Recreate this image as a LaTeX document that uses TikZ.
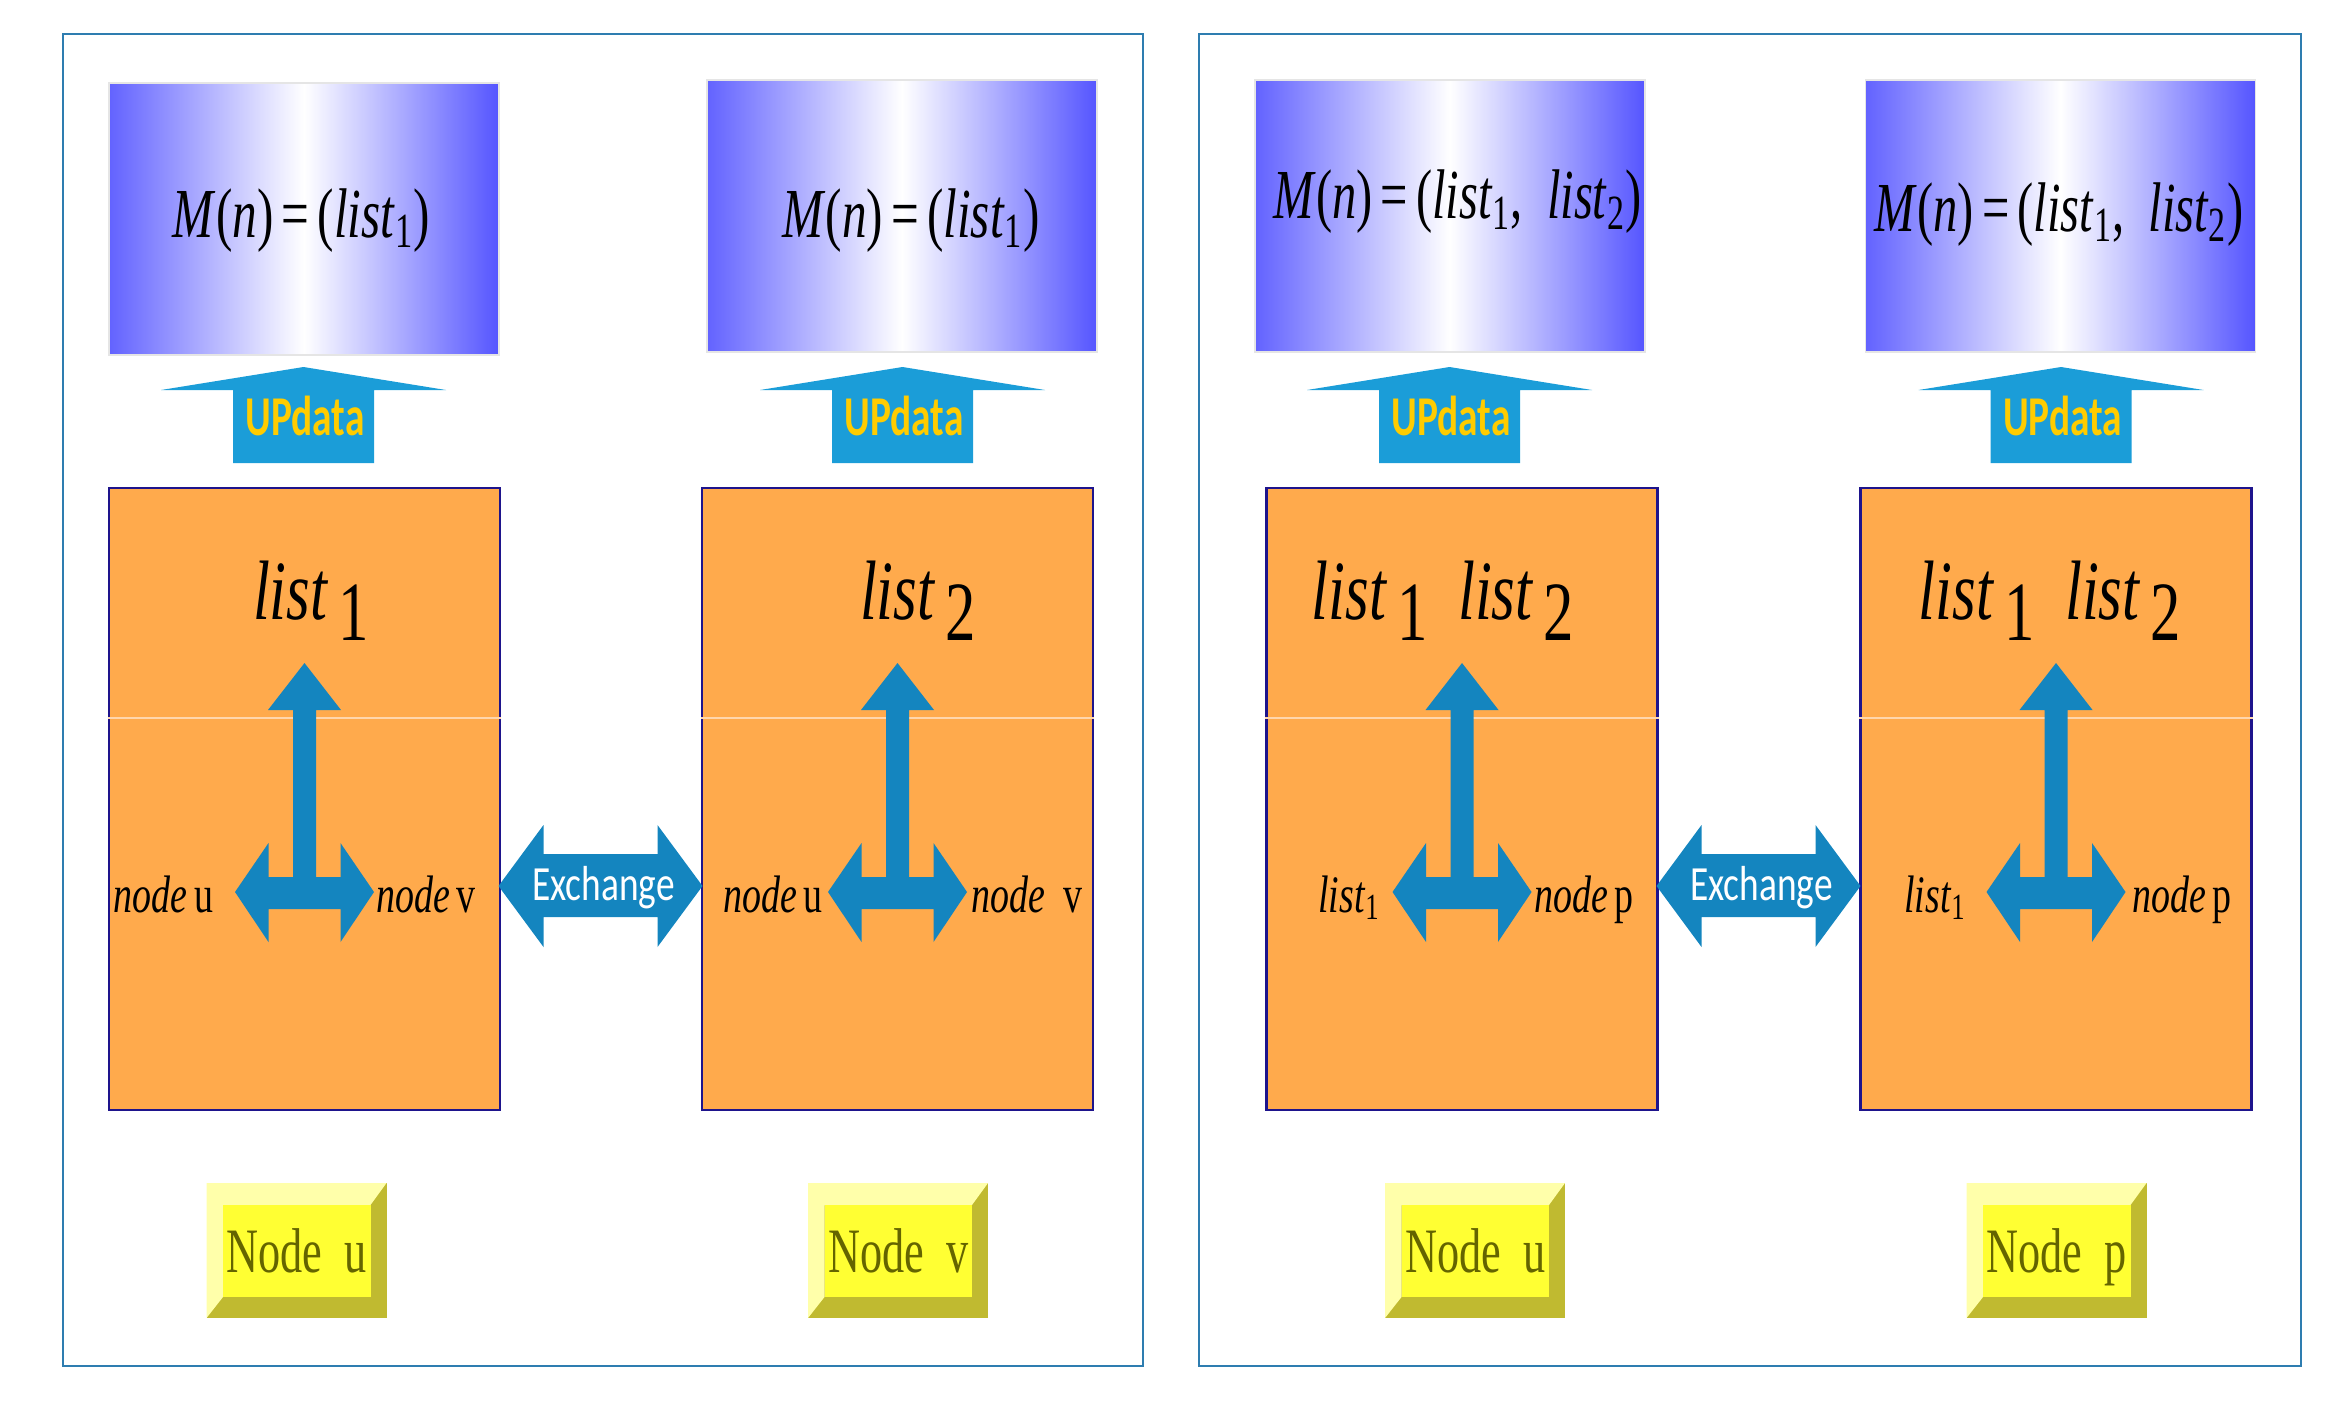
\documentclass[tikz,border=0pt]{standalone}
\usepackage{fontspec}
\setmainfont{Liberation Serif}
\newfontfamily\calibrifont{Carlito}
\usepackage{graphicx}

\definecolor{panelline}{RGB}{46,125,176}
\definecolor{boxblue}{RGB}{85,85,255}
\definecolor{boxorange}{RGB}{255,170,76}
\definecolor{boxedge}{RGB}{30,20,140}
\definecolor{splitline}{RGB}{255,214,172}
\definecolor{arrowblue}{RGB}{20,133,191}
\definecolor{updblue}{RGB}{27,157,216}
\definecolor{updtext}{RGB}{255,204,0}
\definecolor{keyyellow}{RGB}{255,255,51}
\definecolor{keylight}{RGB}{255,255,170}
\definecolor{keydark}{RGB}{192,186,48}
\definecolor{keytext}{RGB}{100,100,0}

\newcommand{\narrowtext}[2][0.72]{\scalebox{#1}[1]{#2}}
\newcommand{\biglist}[1]{\textit{list}\,\raisebox{-6pt}{#1}}
\newcommand{\sublist}[1]{\textit{list}\textsubscript{#1}}

\begin{document}
\begin{tikzpicture}[
    panel/.style={draw=panelline, line width=0.8pt},
    mbox/.style={draw=black!10, left color=boxblue!92!white, right color=boxblue, middle color=white,
      minimum width=3.9cm, minimum height=2.72cm, inner sep=0pt},
    mtext/.style={font=\fontsize{20}{24}\selectfont, inner sep=0pt},
    obox/.style={draw=boxedge, line width=0.8pt, fill=boxorange, minimum width=3.91cm, minimum height=6.22cm},
    biglabel/.style={font=\fontsize{24}{28}\selectfont, inner sep=0pt},
    tag/.style={font=\fontsize{15}{18}\selectfont, inner sep=0pt},
    updlabel/.style={font=\calibrifont\bfseries\fontsize{16}{18}\selectfont, text=updtext, inner sep=0pt},
    exlabel/.style={font=\calibrifont\fontsize{14}{16}\selectfont, text=white, inner sep=0pt},
    keyface/.style={fill=keyyellow, minimum width=1.475cm, minimum height=0.92cm, inner sep=0pt,
      text depth=0pt, text=keytext, font=\fontsize{18}{20}\selectfont}
  ]
  \useasboundingbox (0,0) rectangle (23.48,14.19);

  % the two cases
  \draw[panel] (0.63,0.53) rectangle (11.43,13.85);
  \draw[panel] (11.99,0.53) rectangle (23.01,13.85);

  % M(n) tables
  \node[mbox] (m1) at (3.04,12.00) {};
  \node[mbox] (m2) at (9.02,12.03) {};
  \node[mbox] (m3) at (14.50,12.03) {};
  \node[mbox] (m4) at (20.605,12.03) {};
  \node[mtext, anchor=base] (m1text) at (3.015,11.82) {\narrowtext[0.7]{\textit{M}(\textit{n})\,=\,(\sublist{1})}};
  \node[mtext, anchor=base] (m2text) at (9.11,11.82) {\narrowtext[0.7]{\textit{M}(\textit{n})\,=\,(\sublist{1})}};
  \node[mtext, anchor=base] (m3text) at (14.575,12.00) {\narrowtext[0.69]{\textit{M}(\textit{n})\,=\,(\sublist{1},\enspace\sublist{2})}};
  \node[mtext, anchor=base] (m4text) at (20.59,11.88) {\narrowtext[0.69]{\textit{M}(\textit{n})\,=\,(\sublist{1},\enspace\sublist{2})}};

  % UPdata arrows
  \foreach \x/\n in {3.035/1,9.025/2,14.495/3,20.61/4} {
    \fill[updblue] (\x,10.52) -- (\x+1.425,10.29) -- (\x+0.705,10.29) -- (\x+0.705,9.56)
      -- (\x-0.705,9.56) -- (\x-0.705,10.29) -- (\x-1.425,10.29) -- cycle;
    \node[updlabel, anchor=base] (upd\n) at (\x+0.015,9.84) {\narrowtext[0.7]{UPdata}};
  }

  % nodes' lists
  \node[obox] (o1) at (3.045,6.20) {};
  \node[obox] (o2) at (8.975,6.20) {};
  \node[obox] (o3) at (14.62,6.20) {};
  \node[obox] (o4) at (20.56,6.20) {};
  \foreach \n in {1,...,4}
    \draw[splitline, line width=0.7pt] (o\n.west |- 0,7.01) -- (o\n.east |- 0,7.01);

  \foreach \x in {3.045,8.975,14.62,20.56}
    \fill[arrowblue] (\x,7.56) -- (\x+0.365,7.09) -- (\x+0.115,7.09) -- (\x+0.115,5.42)
      -- (\x+0.36,5.42) -- (\x+0.36,5.76) -- (\x+0.695,5.27) -- (\x+0.36,4.77) -- (\x+0.36,5.10)
      -- (\x-0.36,5.10) -- (\x-0.36,4.77) -- (\x-0.695,5.27) -- (\x-0.36,5.76) -- (\x-0.36,5.42)
      -- (\x-0.115,5.42) -- (\x-0.115,7.09) -- (\x-0.365,7.09) -- cycle;

  \node[biglabel, anchor=base] (l1) at (3.11,8.00) {\narrowtext{\biglist{1}}};
  \node[biglabel, anchor=base] (l2) at (9.18,8.00) {\narrowtext{\biglist{2}}};
  \node[biglabel, anchor=base] (l3) at (14.43,8.00) {\narrowtext{\biglist{1}\enspace\biglist{2}}};
  \node[biglabel, anchor=base] (l4) at (20.50,8.00) {\narrowtext{\biglist{1}\enspace\biglist{2}}};

  \node[tag, anchor=base] (u1) at (1.635,5.07) {\narrowtext{\textit{node}\,u}};
  \node[tag, anchor=base] (v1) at (4.26,5.07) {\narrowtext{\textit{node}\,v}};
  \node[tag, anchor=base] (u2) at (7.73,5.07) {\narrowtext{\textit{node}\,u}};
  \node[tag, anchor=base] (v2) at (10.27,5.07) {\narrowtext{\textit{node}\enspace v}};
  \node[tag, anchor=base] (s3) at (13.49,5.07) {\narrowtext{\sublist{1}}};
  \node[tag, anchor=base] (p3) at (15.84,5.07) {\narrowtext{\textit{node}\,p}};
  \node[tag, anchor=base] (s4) at (19.35,5.07) {\narrowtext{\sublist{1}}};
  \node[tag, anchor=base] (p4) at (21.82,5.07) {\narrowtext{\textit{node}\,p}};

  % Exchange arrows
  \foreach \x/\n in {6.005/1,17.585/2} {
    \fill[arrowblue] (\x-1.02,5.33) -- (\x-0.57,5.94) -- (\x-0.57,5.65) -- (\x+0.57,5.65)
      -- (\x+0.57,5.94) -- (\x+1.02,5.33) -- (\x+0.57,4.72) -- (\x+0.57,5.02)
      -- (\x-0.57,5.02) -- (\x-0.57,4.72) -- cycle;
    \node[exlabel, anchor=base] (ex\n) at (\x+0.03,5.19) {\narrowtext[0.76]{Exchange}};
  }

  % node keys
  \foreach \x/\t/\n in {2.965/u/1,8.98/v/2,14.75/u/3,20.565/p/4} {
    \fill[keydark] (\x-0.9,1.01) rectangle (\x+0.9,2.36);
    \fill[keylight] (\x-0.9,1.01) -- (\x-0.735,1.22) -- (\x-0.735,2.14) -- (\x+0.74,2.14)
      -- (\x+0.9,2.36) -- (\x-0.9,2.36) -- cycle;
    \node[keyface] (k\n) at (\x+0.003,1.68) {\narrowtext[0.7]{Node\ \ \t}};
  }
\end{tikzpicture}
\end{document}
